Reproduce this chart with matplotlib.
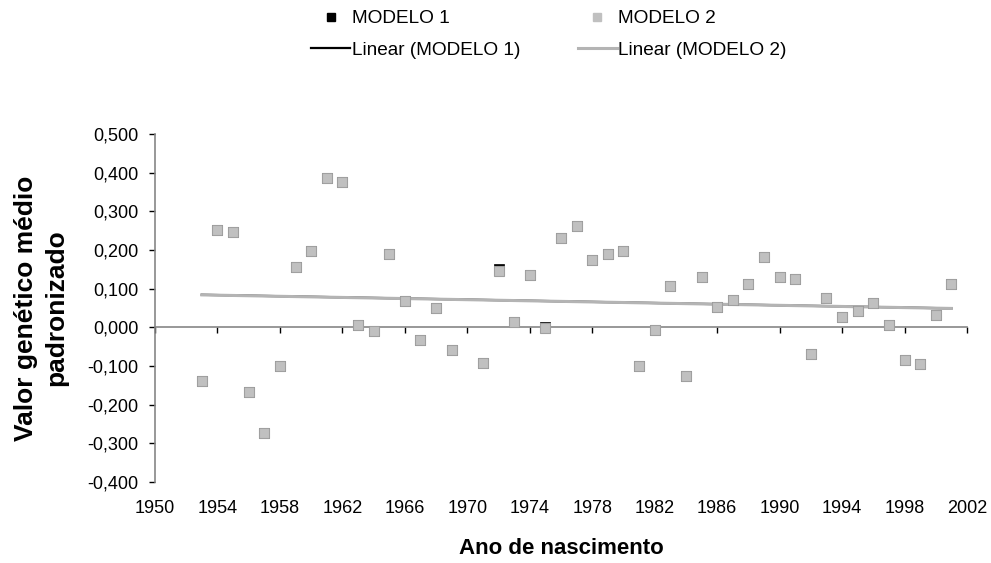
import numpy as np
import matplotlib
matplotlib.use('Agg')
import matplotlib.pyplot as plt
from matplotlib.ticker import FuncFormatter

plt.rcParams['font.family'] = ['Liberation Sans', 'DejaVu Sans']

anos = [1953, 1954, 1955, 1956, 1957, 1958, 1959, 1960, 1961, 1962, 1963, 1964,
        1965, 1966, 1967, 1968, 1969, 1971, 1972, 1973, 1974, 1975, 1976, 1977,
        1978, 1979, 1980, 1981, 1982, 1983, 1984, 1985, 1986, 1987, 1988, 1989,
        1990, 1991, 1992, 1993, 1994, 1995, 1996, 1997, 1998, 1999, 2000, 2001]

modelo1 = [-0.138, 0.251, 0.247, -0.167, -0.274, -0.100, 0.156, 0.197, 0.387, 0.375,
           0.007, -0.010, 0.189, 0.068, -0.034, 0.049, -0.059, -0.093, 0.150, 0.015,
           0.136, 0.002, 0.230, 0.263, 0.173, 0.189, 0.197, -0.100, -0.006, 0.106,
           -0.126, 0.131, 0.052, 0.070, 0.111, 0.181, 0.131, 0.124, -0.068, 0.076,
           0.027, 0.043, 0.062, 0.007, -0.084, -0.094, 0.031, 0.111]

modelo2 = [-0.138, 0.251, 0.247, -0.167, -0.274, -0.100, 0.156, 0.197, 0.387, 0.375,
           0.007, -0.010, 0.189, 0.068, -0.034, 0.049, -0.059, -0.093, 0.145, 0.015,
           0.136, -0.003, 0.230, 0.263, 0.173, 0.189, 0.197, -0.100, -0.006, 0.106,
           -0.126, 0.131, 0.052, 0.070, 0.111, 0.181, 0.131, 0.124, -0.068, 0.076,
           0.027, 0.043, 0.062, 0.007, -0.084, -0.094, 0.031, 0.111]

xticks = list(range(1950, 2003, 4))
yticks = [-0.4, -0.3, -0.2, -0.1, 0.0, 0.1, 0.2, 0.3, 0.4, 0.5]

x = np.array(anos)
y1 = np.array(modelo1)
y2 = np.array(modelo2)

fig = plt.figure(figsize=(9.91, 5.63), dpi=100)
ax = fig.add_axes([155/991, 1-482/563, (967-155)/991, (482-134)/563])

cinza = '#c0c0c0'
eixo = '#868686'

# tendencias lineares
xr = np.array([x.min(), x.max()])
p1 = np.polyfit(x, y1, 1)
p2 = np.polyfit(x, y2, 1)
l1, = ax.plot(xr, np.polyval(p1, xr), color='black', lw=1.6, zorder=2)
l2, = ax.plot(xr, np.polyval(p2, xr), color='#b4b4b4', lw=2.2, zorder=3)

m1, = ax.plot(x, y1, 's', ms=7.2, mfc='black', mec='black', mew=0.5, zorder=4)
m2, = ax.plot(x, y2, 's', ms=7.2, mfc=cinza, mec='#a0a0a0', mew=0.8, zorder=5)

ax.set_xlim(1950, 2002)
ax.set_ylim(-0.4, 0.5)
ax.set_xticks(xticks)
ax.set_yticks(yticks)
ax.yaxis.set_major_formatter(FuncFormatter(lambda v, p: ('%.3f' % v).replace('.', ',')))

for s in ['top', 'right', 'bottom']:
    ax.spines[s].set_visible(False)
ax.spines['left'].set_color(eixo)
ax.spines['left'].set_linewidth(1.2)

ax.tick_params(axis='y', direction='out', length=4, width=1, color='black', pad=8, labelsize=13)
ax.tick_params(axis='x', length=0, pad=13, labelsize=13)

# eixo x cruzando em zero
sec = ax.secondary_xaxis(4/9)
sec.set_xticks(xticks)
sec.tick_params(axis='x', direction='out', length=4, width=1, color='black', labelbottom=False)
sec.spines['bottom'].set_color(eixo)
sec.spines['bottom'].set_linewidth(1.2)

ax.set_xlabel('Ano de nascimento', fontsize=16, fontweight='bold', labelpad=15)
ax.set_ylabel('Valor genético médio\npadronizado', fontsize=19, fontweight='bold',
              labelpad=14, linespacing=1.3)

lm1, = ax.plot([], [], 's', ms=5.5, mfc='black', mec='black')
lm2, = ax.plot([], [], 's', ms=5.5, mfc=cinza, mec=cinza)
fig.legend([lm1, l1, lm2, l2],
           ['MODELO 1', 'Linear (MODELO 1)', 'MODELO 2', 'Linear (MODELO 2)'],
           ncol=2, loc='center', bbox_to_anchor=(0.554, 0.939), frameon=False,
           fontsize=13.7, handlelength=2.05, handletextpad=0.1, columnspacing=3.0,
           labelspacing=0.75)

fig.savefig('out.png', dpi=100)
